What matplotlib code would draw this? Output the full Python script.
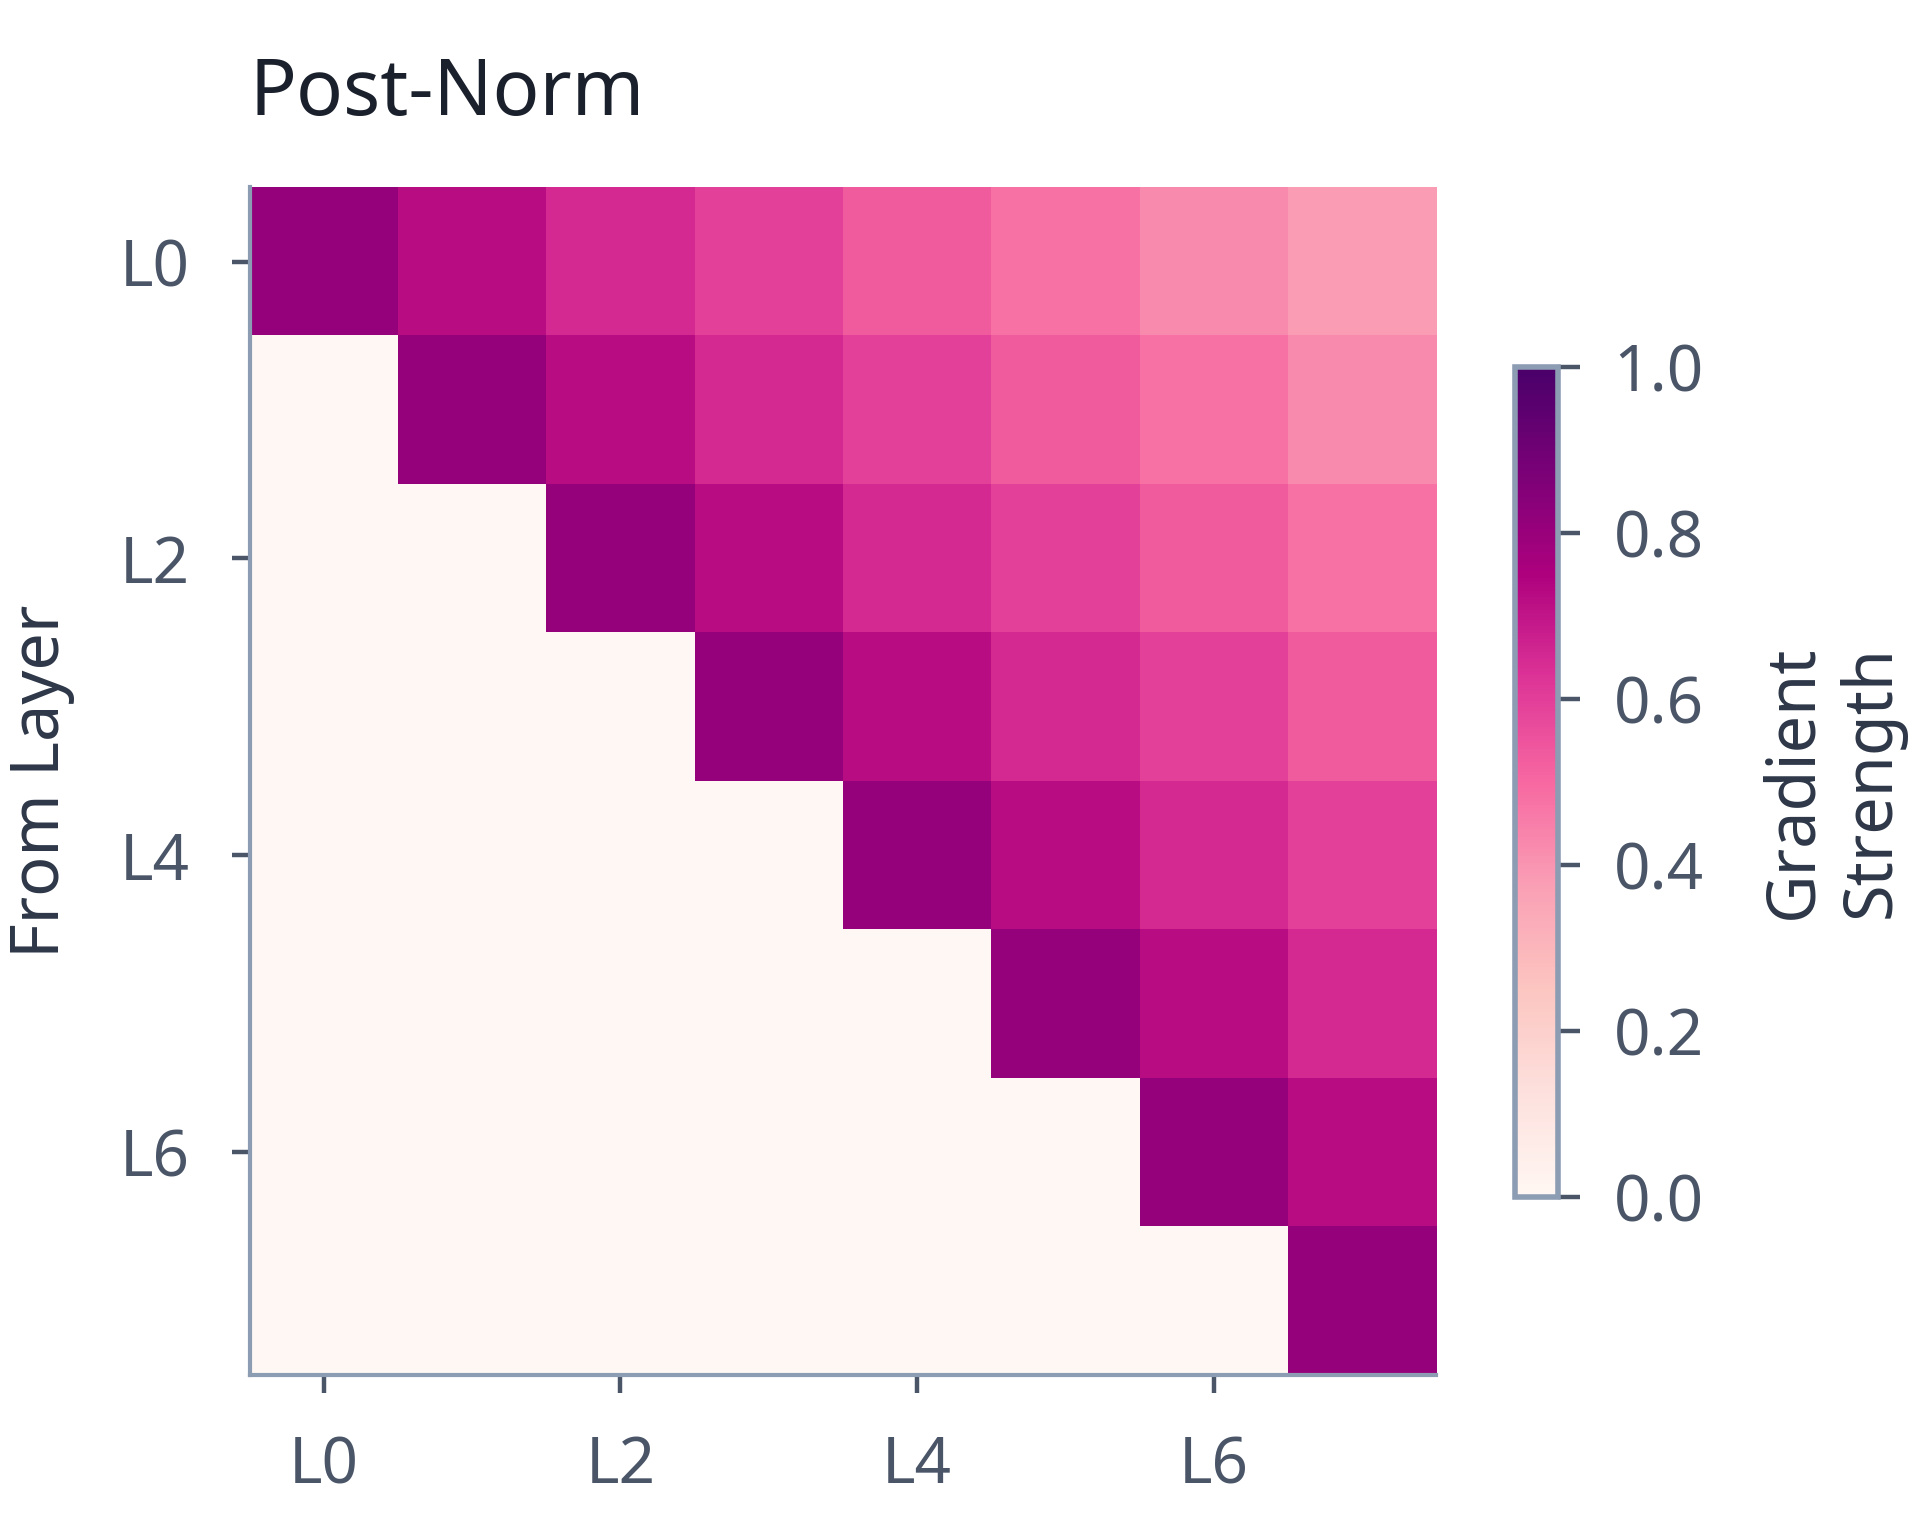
import numpy as np
import matplotlib
matplotlib.use('Agg')
import matplotlib.pyplot as plt

# gradient strength, row = from layer, col = to layer
layer_names = ['L0', 'L1', 'L2', 'L3', 'L4', 'L5', 'L6', 'L7']
row_L0 = [0.81, 0.72, 0.65, 0.59, 0.53, 0.48, 0.42, 0.38]
row_L1 = [0.00, 0.81, 0.72, 0.65, 0.59, 0.53, 0.48, 0.42]
row_L2 = [0.00, 0.00, 0.81, 0.72, 0.65, 0.59, 0.53, 0.48]
row_L3 = [0.00, 0.00, 0.00, 0.81, 0.72, 0.65, 0.59, 0.53]
row_L4 = [0.00, 0.00, 0.00, 0.00, 0.81, 0.72, 0.65, 0.59]
row_L5 = [0.00, 0.00, 0.00, 0.00, 0.00, 0.81, 0.72, 0.65]
row_L6 = [0.00, 0.00, 0.00, 0.00, 0.00, 0.00, 0.81, 0.72]
row_L7 = [0.00, 0.00, 0.00, 0.00, 0.00, 0.00, 0.00, 0.81]
tick_pos = [0, 2, 4, 6]
tick_labels = ['L0', 'L2', 'L4', 'L6']
cbar_ticks = [0.0, 0.2, 0.4, 0.6, 0.8, 1.0]

grad = np.array([row_L0, row_L1, row_L2, row_L3, row_L4, row_L5, row_L6, row_L7])

plt.rcParams['font.family'] = ['Noto Sans', 'DejaVu Sans']
txt_col = '#4a5568'
spine_col = '#8c9cb2'

fig = plt.figure(figsize=(9.6, 7.68), dpi=200)
ax = fig.add_axes([0.130, 0.105, 0.618, 0.773])
im = ax.imshow(grad, cmap='RdPu', vmin=0, vmax=1, aspect='auto', interpolation='nearest')

ax.set_xticks(tick_pos)
ax.set_xticklabels(tick_labels)
ax.set_yticks(tick_pos)
ax.set_yticklabels(tick_labels)
ax.tick_params(axis='both', labelsize=23, labelcolor=txt_col, color=txt_col,
               length=6.5, width=1.6, pad=15)
for s in ['top', 'right']:
    ax.spines[s].set_visible(False)
for s in ['left', 'bottom']:
    ax.spines[s].set_color(spine_col)
    ax.spines[s].set_linewidth(1.5)

ax.set_ylabel('From Layer', fontsize=24, color='#2d3748', labelpad=16)
ax.set_title('Post-Norm', loc='left', fontsize=28, color='#1a202c', pad=26)

cax = fig.add_axes([0.789, 0.221, 0.0224, 0.540])
cb = fig.colorbar(im, cax=cax, ticks=cbar_ticks)
cb.outline.set_edgecolor(spine_col)
cb.outline.set_linewidth(2.0)
cax.tick_params(labelsize=23, labelcolor=txt_col, color=txt_col, length=8, width=1.6, pad=12)
cb.set_label('Gradient\nStrength', fontsize=24, color='#2d3748', labelpad=20)

fig.savefig('out.png', dpi=200)
